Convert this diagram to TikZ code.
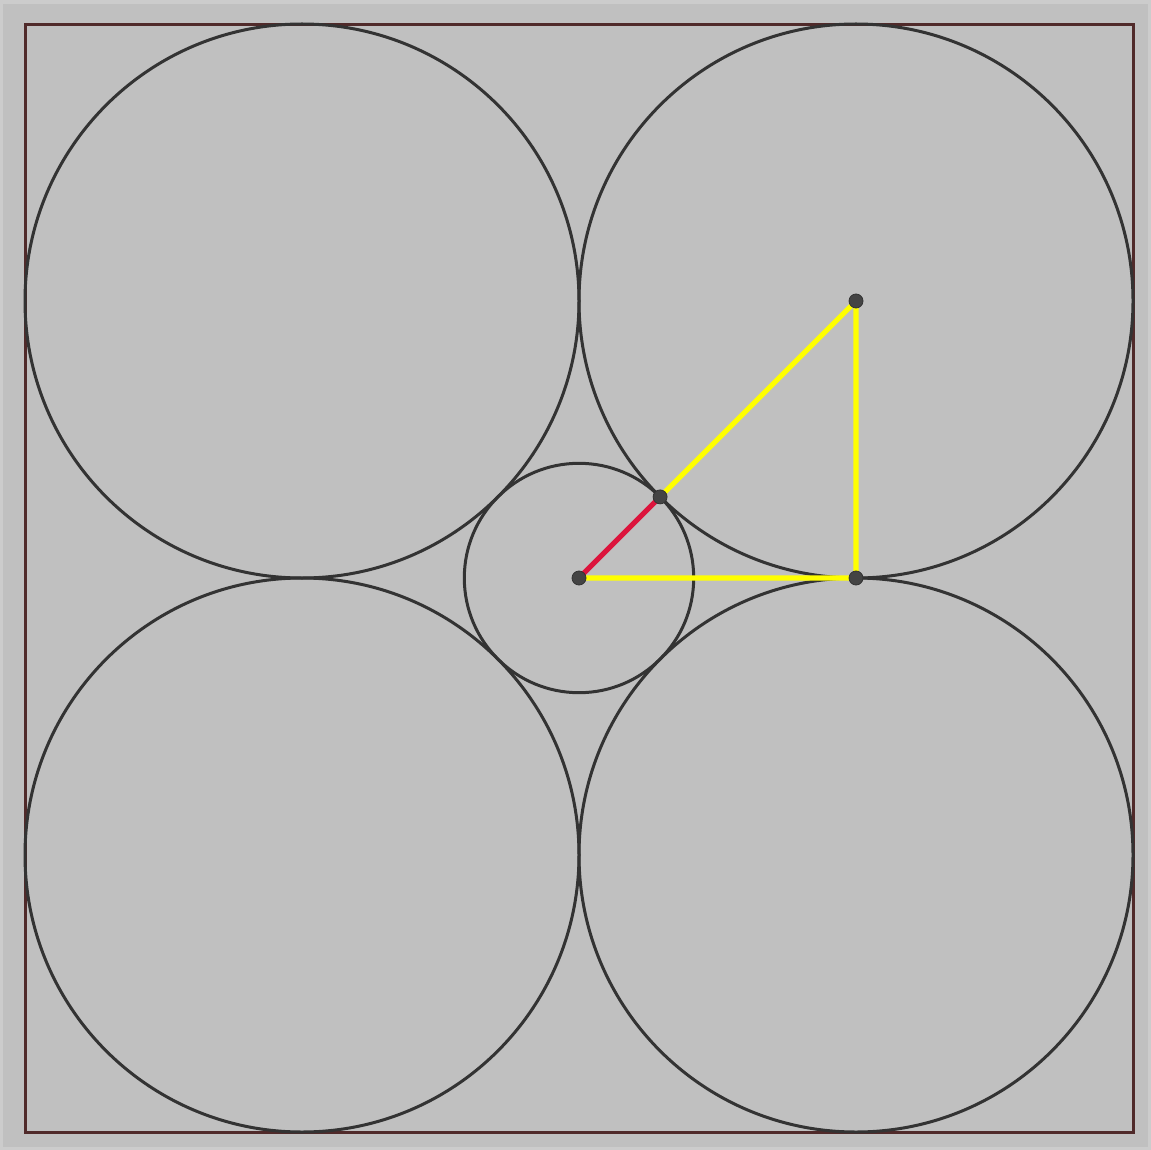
\documentclass[tikz,border=0pt]{standalone}
\usepackage{tikz}
\usetikzlibrary{calc}
\definecolor{bggray}{RGB}{192,192,192}
\definecolor{edgegray}{RGB}{204,204,204}
\definecolor{framered}{RGB}{80,42,42}
\definecolor{circgray}{RGB}{51,51,51}
\definecolor{segyellow}{RGB}{255,255,0}
\definecolor{segred}{RGB}{220,20,60}
\definecolor{ptgray}{RGB}{68,68,68}
\tikzset{
  circ/.style={circgray, line width=1.5pt},
  seg/.style={segyellow, line width=2.6pt},
  pt/.style={circle, fill=ptgray, draw=black!80, line width=0.4pt, inner sep=0pt, minimum size=7pt}
}
\begin{document}
\begin{tikzpicture}[x=0.5pt, y=-0.5pt]
        % background and frame
        \fill[edgegray] (0,0) rectangle (1151,1150);
        \fill[bggray] (3,4) rectangle (1148,1147);
        \useasboundingbox (0,0) rectangle (1151,1150);
        \draw[framered, line width=1.5pt] (25,25) rectangle (1133,1132);
        % four big circles and the small one
        \foreach \cx/\cy in {302/301, 856/301, 302/855, 856/855}
            \draw[circ] (\cx,\cy) circle (277);
        \draw[circ] (579,578) circle (114.7);
        % points
        \coordinate (C) at (579,578);
        \coordinate (A) at (856,301);
        \coordinate (B) at (856,578);
        \coordinate (T) at ($(C)+(81.1,-81.1)$);
        % segments
        \draw[seg] (T) -- (A) -- (B) -- (C);
        \draw[seg, segred] (C) -- (T);
        \node[pt] (pC) at (C) {};
        \node[pt] (pA) at (A) {};
        \node[pt] (pB) at (B) {};
        \node[pt] (pT) at (T) {};
    \end{tikzpicture}
\end{document}
